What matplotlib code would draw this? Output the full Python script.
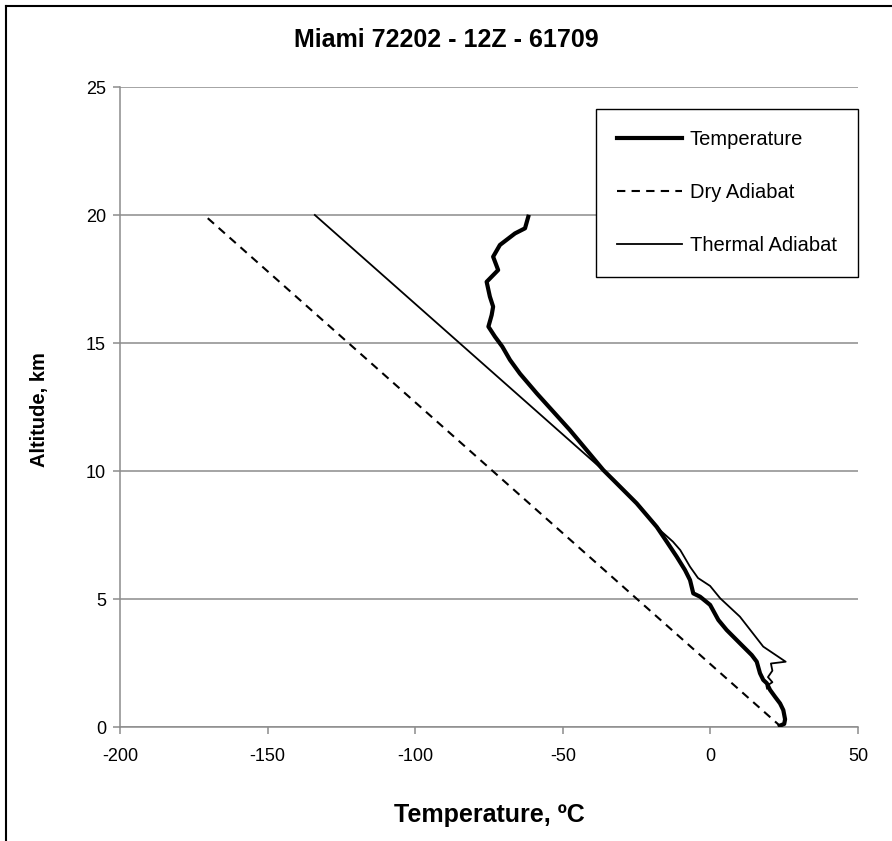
import numpy as np
import matplotlib
matplotlib.use('Agg')
import matplotlib.pyplot as plt
from matplotlib.lines import Line2D

plt.rcParams['font.family'] = ['Liberation Sans', 'DejaVu Sans']
plt.rcParams['axes.unicode_minus'] = False

# sounding data
temp_alt = [0.05, 0.12, 0.3, 0.66, 0.92, 1.18, 1.45, 1.71, 1.84, 2.10, 2.55, 2.81,
            3.27, 3.79, 4.18, 4.77, 5.09, 5.22, 5.74, 6.13, 6.65, 7.24, 7.82, 8.74,
            9.65, 10.04, 11.6, 13.03, 13.8, 14.34, 14.86, 15.25, 15.64, 16.09, 16.42,
            16.81, 17.39, 17.85, 18.37, 18.83, 19.28, 19.48, 19.93]
temp_val = [23.5, 25.0, 25.3, 24.7, 23.6, 21.9, 20.2, 19.1, 17.9, 16.8, 15.7, 14.0,
            10.0, 5.5, 2.7, -0.1, -3.5, -5.8, -6.9, -8.6, -11.4, -14.8, -18.2, -25.0,
            -32.9, -36.3, -47.6, -58.8, -64.5, -67.9, -70.5, -73.0, -75.2, -74.1, -73.6,
            -74.7, -75.8, -71.9, -73.6, -71.3, -66.2, -62.8, -61.7]

dry_alt = [0.0, 20.0]
dry_val = [24.0, -171.5]

therm_alt = [1.5, 1.6, 1.75, 1.95, 2.2, 2.48, 2.55, 3.14, 4.31, 5.03, 5.51, 5.82,
             6.26, 6.91, 7.24, 7.63, 8.7, 9.65, 10.04, 20.0]
therm_val = [19.2, 19.0, 21.0, 19.5, 21.0, 20.5, 25.5, 17.9, 10.0, 3.3, -0.1, -4.2,
             -6.9, -10.2, -12.7, -16.5, -24.5, -32.6, -36.4, -134.0]

fig = plt.figure(figsize=(8.92, 8.41), dpi=100)
ax = fig.add_axes([120/892, 1-727/841, 738/892, 640/841])

ax.plot(temp_val, temp_alt, color='black', lw=3.0, label='Temperature', zorder=3)
ax.plot(dry_val, dry_alt, color='black', lw=1.5, ls=(0, (4, 3)), label='Dry Adiabat')
ax.plot(therm_val, therm_alt, color='black', lw=1.3, label='Thermal Adiabat')

ax.set_xlim(-200, 50)
ax.set_ylim(0, 25)
ax.set_xticks([-200, -150, -100, -50, 0, 50])
ax.set_yticks([0, 5, 10, 15, 20, 25])
ax.grid(axis='y', color='#8c8c8c', lw=1.1)
ax.set_axisbelow(True)
for s in ['top', 'right']:
    ax.spines[s].set_visible(False)
for s in ['left', 'bottom']:
    ax.spines[s].set_color('#8c8c8c')
    ax.spines[s].set_linewidth(1.1)
ax.tick_params(axis='both', colors='#8c8c8c', labelcolor='black', labelsize=13,
               length=5, width=1.1)
ax.tick_params(axis='x', pad=10)
ax.tick_params(axis='y', pad=5)

# title and axis labels placed in figure pixels
fig.text(446/892, 1-40/841, 'Miami 72202 - 12Z - 61709', fontsize=18,
         fontweight='bold', ha='center', va='center')
fig.text(489/892, 1-815/841, 'Temperature, ºC', fontsize=18,
         fontweight='bold', ha='center', va='center')
fig.text(40/892, 1-410/841, 'Altitude, km', fontsize=14.5, fontweight='bold',
         ha='center', va='center', rotation=90)

leg = ax.legend(loc='upper right', bbox_to_anchor=(1.0, 0.966), borderaxespad=0,
                fontsize=14.5, labelspacing=1.7, handlelength=3.2, handletextpad=0.4,
                borderpad=1.05, frameon=True, fancybox=False, framealpha=1)
leg.get_frame().set_edgecolor('black')
leg.get_frame().set_linewidth(1.0)

# outer frame (left and top edges only visible)
fig.add_artist(Line2D([6/892, 6/892], [0, 1-6/841], color='black', lw=1.5,
                      transform=fig.transFigure))
fig.add_artist(Line2D([6/892, 1], [1-6/841, 1-6/841], color='black', lw=1.5,
                      transform=fig.transFigure))

fig.savefig('out.png', dpi=100)
